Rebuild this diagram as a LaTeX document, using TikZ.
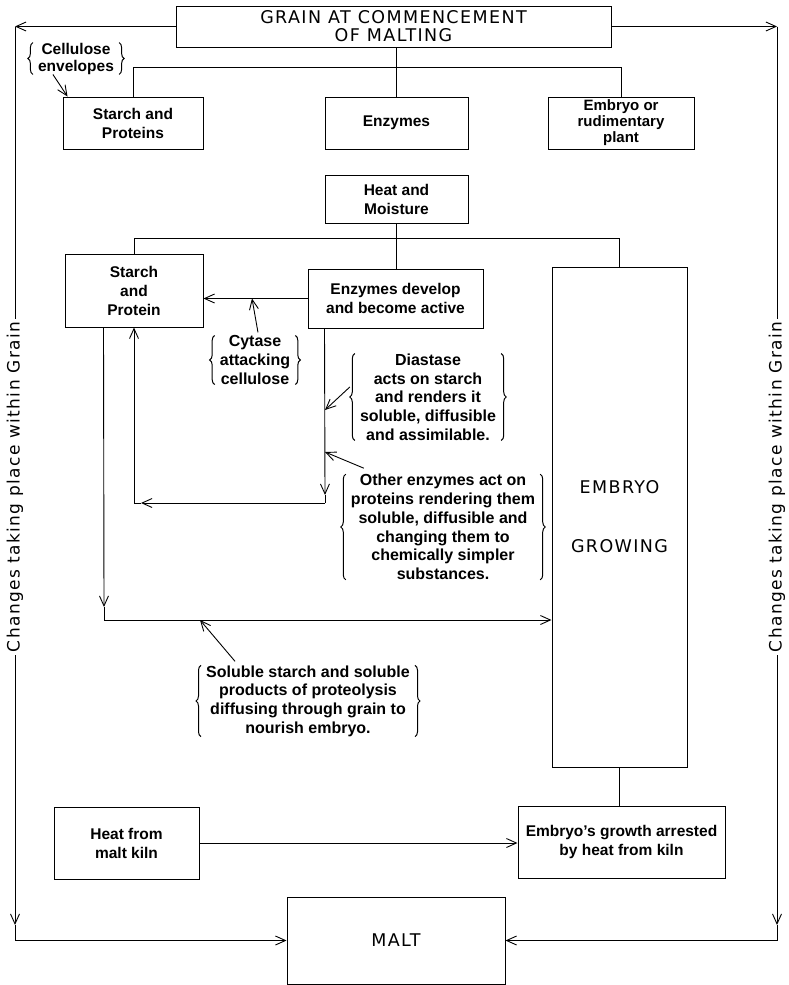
\documentclass[tikz,border=0pt]{standalone}
\usepackage{fontspec}
\usetikzlibrary{arrows.meta,decorations.pathreplacing}
\setmainfont{DejaVu Sans}
\newfontfamily\heavysans{Liberation Sans}[UprightFont={* Bold}]
\newfontfamily\widesans{DejaVu Sans}[LetterSpace=8]
\newcommand{\curly}[1]{\draw[brace] ([xshift=-5pt]#1.south west) -- ([xshift=-5pt]#1.north west); \draw[brace] ([xshift=5pt]#1.north east) -- ([xshift=5pt]#1.south east);}

\begin{document}
\begin{tikzpicture}[x=1pt,y=-1pt,
    box/.style={draw,line width=1pt,inner sep=0pt,align=center,font=\heavysans\fontsize{15.5}{19}\selectfont},
    caps/.style={font=\widesans\fontsize{17.5}{18}\selectfont},
    note/.style={inner sep=0pt,align=center,font=\heavysans\fontsize{16}{18.7}\selectfont},
    link/.style={line width=0.9pt},
    tip/.style={-{Straight Barb[length=10pt,width=9pt]}},
    brace/.style={line width=1pt,decorate,decoration={brace,amplitude=5pt}},
    side/.style={rotate=90,fill=white,inner xsep=3pt,inner ysep=0pt,font=\widesans\fontsize{17}{20}\selectfont}]
\useasboundingbox (0,0) rectangle (788,985);
% boxes
\node[box,caps,minimum width=435pt,minimum height=41pt] (grain) at (393.5,26.5) {GRAIN AT COMMENCEMENT\\OF MALTING};
\node[box,minimum width=140pt,minimum height=52pt] (sap) at (133,123) {Starch and\\Proteins};
\node[box,minimum width=143pt,minimum height=52pt] (enz) at (396.5,123) {Enzymes};
\node[box,font=\heavysans\fontsize{15}{16}\selectfont,minimum width=146pt,minimum height=52pt] (emb) at (621,123) {Embryo or\\rudimentary\\plant};
\node[box,minimum width=143pt,minimum height=48pt] (hm) at (396.5,199) {Heat and\\Moisture};
\node[box,minimum width=138pt,minimum height=73pt] (sp) at (134,290.5) {Starch\\and\\Protein};
\node[box,minimum width=175pt,minimum height=59pt] (ed) at (395.5,298.5) {Enzymes develop\\and become active};
\node[box,caps,minimum width=135pt,minimum height=500pt] (eg) at (619.5,517) {EMBRYO\\[41pt]GROWING};
\node[box,minimum width=145pt,minimum height=72pt] (hfk) at (126.5,843) {Heat from\\malt kiln};
\node[box,minimum width=207pt,minimum height=72pt] (ega) at (621.5,842) {Embryo’s growth arrested\\by heat from kiln};
\node[box,caps,minimum width=218pt,minimum height=87pt] (malt) at (396,940.5) {MALT};
% notes
\node[note,font=\heavysans\fontsize{15.5}{17}\selectfont] (cell) at (76,58.5) {Cellulose\\envelopes};
\node[note] (cyt) at (255,360) {Cytase\\attacking\\cellulose};
\node[note] (dia) at (428,397) {Diastase\\acts on starch\\and renders it\\soluble, diffusible\\and assimilable.};
\node[note] (oth) at (443,527) {Other enzymes act on\\proteins rendering them\\soluble, diffusible and\\changing them to\\chemically simpler\\substances.};
\node[note] (sol) at (308,701) {Soluble starch and soluble\\products of proteolysis\\diffusing through grain to\\nourish embryo.};
\curly{cell} \curly{cyt} \curly{dia} \curly{oth} \curly{sol}
% corners
\coordinate (lt) at (15,26.5); \coordinate (ld) at (15,925); \coordinate (lb) at (15,940.5);
\coordinate (rt) at (777,26.5); \coordinate (rd) at (777,925); \coordinate (rb) at (777,940.5);
\coordinate (bus1) at (396,67); \coordinate (bus2) at (396,238);
\coordinate (cytpt) at (252,298.5);
\coordinate (p1) at (325,503); \coordinate (diapt) at (325,410); \coordinate (othpt) at (325,452);
\coordinate (q1) at (104,620); \coordinate (solpt) at (200,620);
% connectors
\draw[link] (grain.south -| enz.north) -- (enz.north);
\draw[link] (sap.north) -- (sap.north |- bus1) -- (emb.north |- bus1) -- (emb.north);
\draw[link] (hm.south) -- (hm.south |- ed.north);
\draw[link] (sp.north) -- (sp.north |- bus2) -- (eg.north |- bus2) -- (eg.north);
\draw[link,tip] (grain.west) -- (lt); \draw[link,tip] (lt) -- (ld); \draw[link] (ld) -- (lb); \draw[link,tip] (lb) -- (malt.west);
\draw[link,tip] (grain.east) -- (rt); \draw[link,tip] (rt) -- (rd); \draw[link] (rd) -- (rb); \draw[link,tip] (rb) -- (malt.east);
\draw[link,tip] (ed.west) -- (ed.west -| sp.east);
\draw[link,tip] ([xshift=3pt,yshift=3pt]cyt.north) -- (cytpt);
\draw[link,tip] ([xshift=17pt]ed.south west) -- ([yshift=8pt]p1); \draw[link] ([yshift=8pt]p1) -- (p1);
\draw[link,tip] (p1) -- ([xshift=7pt]sp.south |- p1); \draw[link] ([xshift=7pt]sp.south |- p1) -- (sp.south |- p1);
\draw[link,tip] (sp.south |- p1) -- (sp.south);
\draw[link,tip] ([xshift=-10pt,yshift=10pt]dia.west) -- (diapt);
\draw[link,tip] ([xshift=13pt,yshift=6pt]oth.north west) -- (othpt);
\draw[link,tip] ([xshift=15pt]cell.south west) -- ([xshift=5pt]sap.north west);
\draw[link,tip] ([xshift=39pt]sp.south west) -- ([yshift=13pt]q1); \draw[link] ([yshift=13pt]q1) -- (q1);
\draw[link,tip] (q1) -- (q1 -| eg.west);
\draw[link,tip] ([xshift=29pt,yshift=4pt]sol.north west) -- (solpt);
\draw[link] (eg.south) -- (eg.south |- ega.north);
\draw[link,tip] (hfk.east) -- (hfk.east -| ega.west);
% side labels
\node[side] (lside) at (15,487) {Changes taking place within Grain};
\node[side] (rside) at (777,487) {Changes taking place within Grain};
\end{tikzpicture}
\end{document}
